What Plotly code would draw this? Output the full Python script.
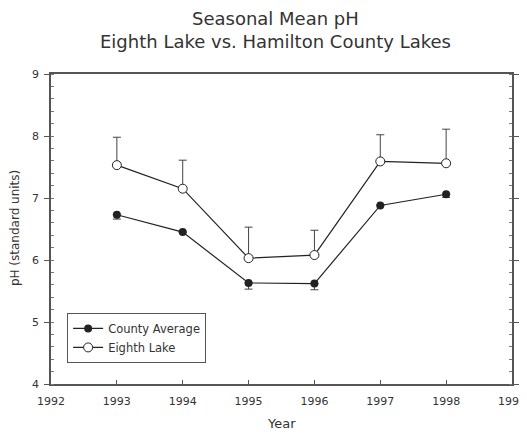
import plotly.graph_objects as go

years = [1993, 1994, 1995, 1996, 1997, 1998]
county_avg = [6.73, 6.45, 5.63, 5.62, 6.88, 7.06]
county_err_low = [0.07, 0.0, 0.1, 0.1, 0.0, 0.05]
eighth_lake = [7.53, 7.15, 6.03, 6.08, 7.59, 7.56]
eighth_err_up = [0.45, 0.46, 0.50, 0.40, 0.43, 0.55]
x_ticks = [1992, 1993, 1994, 1995, 1996, 1997, 1998, 1999]
y_ticks = [4, 5, 6, 7, 8, 9]
title_lines = ["Seasonal Mean pH", "Eighth Lake vs. Hamilton County Lakes"]
title_offsets = [55, 33]  # px above the plot area

FONT = "DejaVu Sans, Liberation Sans, sans-serif"
INK = "#333333"

fig = go.Figure()

fig.add_trace(go.Scatter(
    x=years, y=county_avg,
    mode="lines+markers",
    name="County Average",
    line=dict(color="#222222", width=1.2),
    marker=dict(symbol="circle", size=8, color="#222222"),
    error_y=dict(type="data", symmetric=False, array=[0] * len(years),
                 arrayminus=county_err_low, color="#444444", thickness=1, width=4),
))

fig.add_trace(go.Scatter(
    x=years, y=eighth_lake,
    mode="lines+markers",
    name="Eighth Lake",
    line=dict(color="#222222", width=1.2),
    marker=dict(symbol="circle", size=9, color="white", line=dict(color="#222222", width=1)),
    error_y=dict(type="data", symmetric=False, array=eighth_err_up,
                 arrayminus=[0] * len(years), color="#444444", thickness=1, width=4),
))

# two-line title as annotations, so the plot area stays put
for line, off in zip(title_lines, title_offsets):
    fig.add_annotation(
        text=line, xref="paper", yref="paper",
        x=0.486, y=1.0 + off / 310.0,
        xanchor="center", yanchor="middle", showarrow=False,
        font=dict(family=FONT, size=18, color=INK),
    )

# axis titles
fig.add_annotation(
    text="pH (standard units)", xref="paper", yref="paper",
    x=-0.078, y=0.503, textangle=-90,
    xanchor="center", yanchor="middle", showarrow=False,
    font=dict(family=FONT, size=12, color=INK),
)
fig.add_annotation(
    text="Year", xref="paper", yref="paper",
    x=0.501, y=-0.129,
    xanchor="center", yanchor="middle", showarrow=False,
    font=dict(family=FONT, size=13, color=INK),
)

# the page body adds an 8px offset, so the figure is a bit smaller than the window
fig.update_layout(
    width=519, height=426,
    margin=dict(l=43, r=15, t=66, b=50, autoexpand=False),
    paper_bgcolor="white", plot_bgcolor="white",
    font=dict(family=FONT, color=INK, size=11),
    showlegend=True,
    legend=dict(
        x=0.035, y=0.068, xanchor="left", yanchor="bottom",
        bgcolor="white", bordercolor="#555555", borderwidth=1,
        font=dict(family=FONT, size=11.5, color=INK),
        itemwidth=30, tracegroupgap=0,
    ),
)

fig.update_xaxes(
    range=[1992, 1999], tickvals=x_ticks, ticktext=[str(v) for v in x_ticks],
    ticks="inside", ticklen=4, tickcolor="#555555", ticklabelstandoff=6,
    showline=True, linecolor="#555555", linewidth=1.5, mirror=True,
    showgrid=False, zeroline=False, automargin=False,
    tickfont=dict(size=11, color=INK),
)

fig.update_yaxes(
    range=[4, 9], tickvals=y_ticks,
    ticks="outside", ticklen=5, tickcolor="#555555", ticklabelstandoff=3,
    minor=dict(dtick=0.2, ticks="inside", ticklen=3, tickcolor="#777777"),
    showline=True, linecolor="#555555", linewidth=1.5, mirror="allticks",
    showgrid=False, zeroline=False, automargin=False,
    tickfont=dict(size=11, color=INK),
)

fig.write_html("out.html")
